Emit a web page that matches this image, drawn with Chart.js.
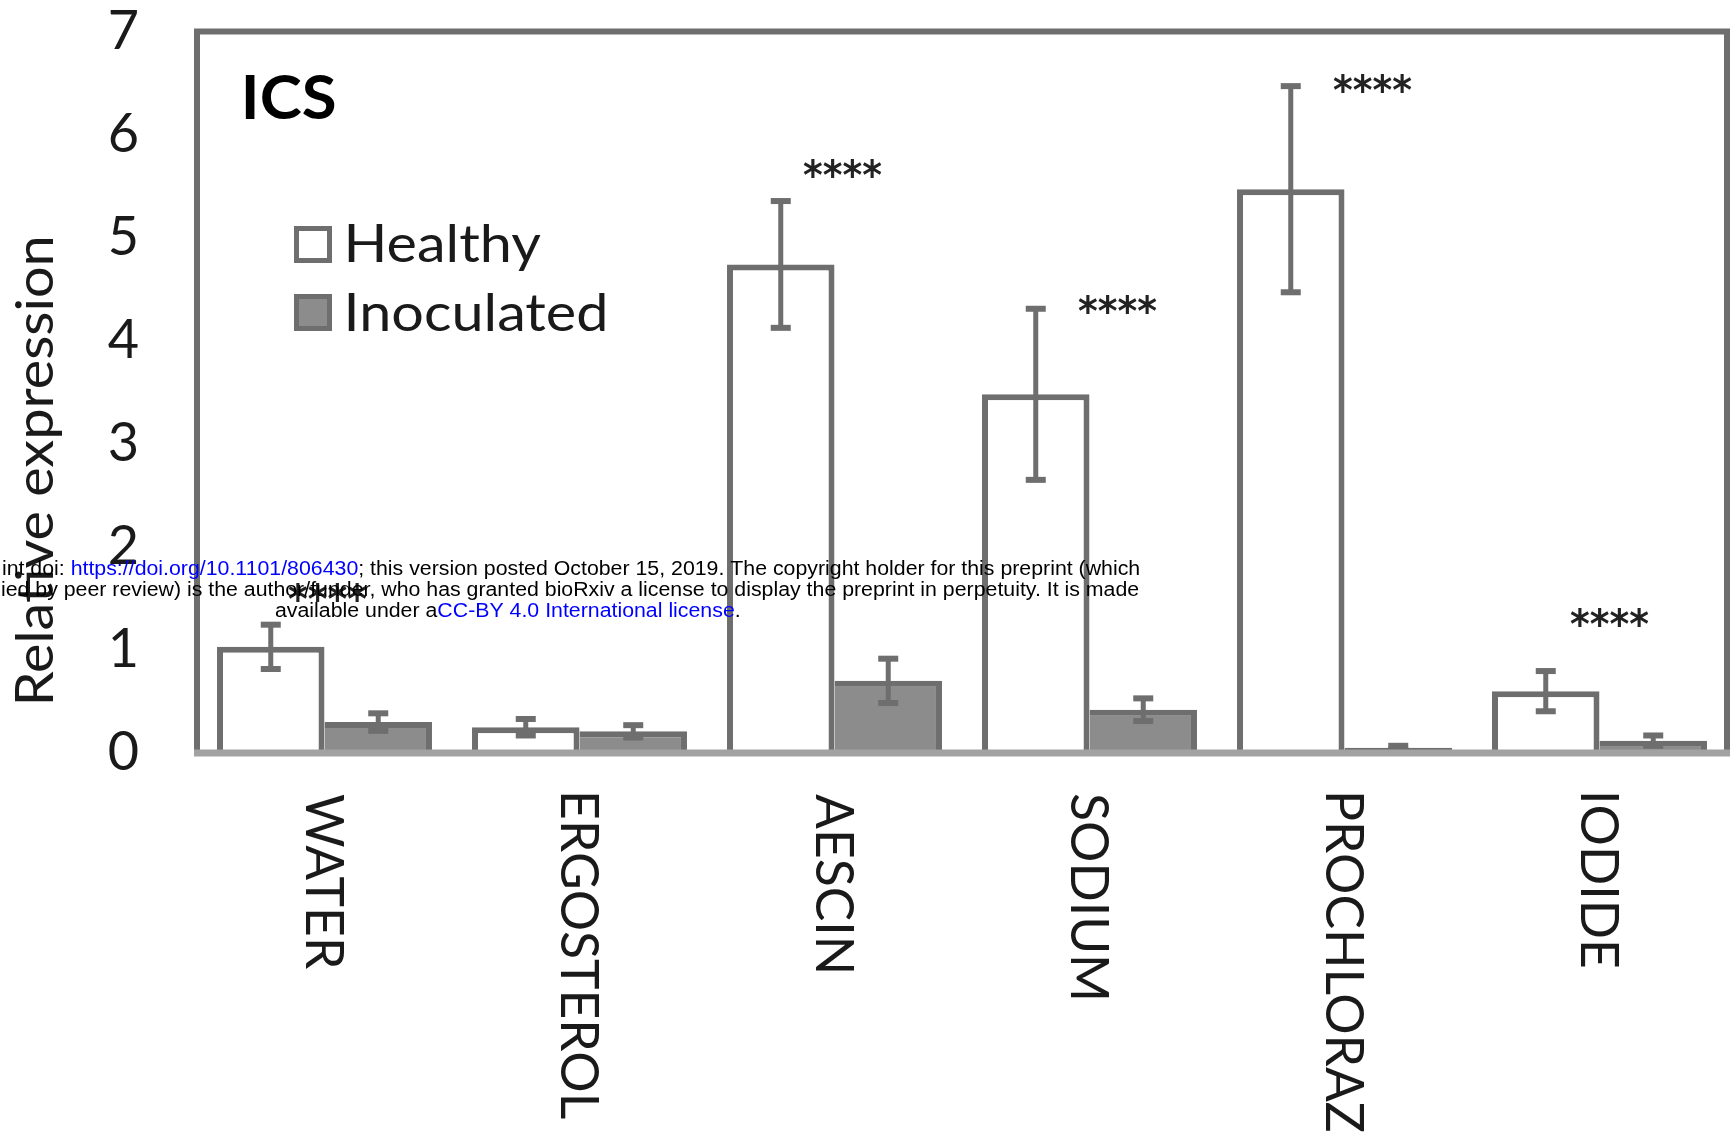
<!DOCTYPE html>
<html>
<head>
<meta charset="utf-8">
<title>ICS relative expression</title>
<script src="https://cdn.jsdelivr.net/npm/chart.js@4/dist/chart.umd.min.js"></script>
<style>
  html, body { margin: 0; padding: 0; background: #ffffff; }
  #wrap { width: 1734px; height: 1140px; position: relative; }
</style>
</head>
<body>
<div id="wrap"><canvas id="chart"></canvas></div>
<script>
// ---- data ----
const categories = ['WATER', 'ERGOSTEROL', 'AESCIN', 'SODIUM', 'PROCHLORAZ', 'IODIDE'];
const healthy = [1.03, 0.25, 4.74, 3.48, 5.47, 0.60];
const healthyErr = [0.215, 0.08, 0.615, 0.83, 1.00, 0.195];
const inoculated = [0.30, 0.21, 0.70, 0.42, 0.05, 0.12];
const inoculatedErr = [0.085, 0.06, 0.215, 0.11, 0.02, 0.05];
const sigMarks = ['****', '', '****', '****', '****', '****'];
const sigLevel = [1.56, null, 5.68, 4.36, 6.50, 1.32];
const yTicks = [0, 1, 2, 3, 4, 5, 6, 7];
const panelTitle = 'ICS';
const yTitle = 'Relative expression';

// ---- styles ----
const LINE_GRAY = '#6e6e6e';
const INOC_FILL = '#8c8c8c';
const TEXT = '#1a1a1a';
const BLUE = '#0000ff';

function drawFitted(ctx, text, o) {
  ctx.save();
  ctx.font = o.font;
  ctx.textAlign = 'left';
  ctx.textBaseline = 'alphabetic';
  const segs = o.segments || [{ text: text, color: o.color }];
  const full = segs.map(s => s.text).join('');
  const m = ctx.measureText(full);
  const inkL = m.actualBoundingBoxLeft, inkR = m.actualBoundingBoxRight;
  const sx = o.width ? o.width / (inkL + inkR) : (o.sx || 1);
  ctx.translate(o.x, o.y);
  if (o.rot) ctx.rotate(o.rot);
  ctx.scale(sx, 1);
  let lx = inkL;
  if (o.align === 'right') lx = -inkR;
  else if (o.align === 'center') lx = (inkL - inkR) / 2;
  let ly = 0;
  if (o.vAlign === 'center') ly = (m.actualBoundingBoxAscent - m.actualBoundingBoxDescent) / 2;
  let cx = lx;
  for (const s of segs) {
    ctx.fillStyle = s.color;
    ctx.fillText(s.text, cx, ly);
    cx += ctx.measureText(s.text).width;
  }
  ctx.restore();
  return sx;
}

function inkScale(ctx, font, text, width) {
  ctx.save();
  ctx.font = font;
  const m = ctx.measureText(text);
  ctx.restore();
  return width / (m.actualBoundingBoxLeft + m.actualBoundingBoxRight);
}

// error bars, frame, significance marks, category labels, legend and captions
const decorations = {
  id: 'decorations',
  afterDraw(chart) {
    const ctx = chart.ctx;
    const area = chart.chartArea;
    const y = chart.scales.y;
    const x = chart.scales.x;

    // error bars
    const errs = [healthyErr, inoculatedErr];
    chart.data.datasets.forEach((ds, di) => {
      const meta = chart.getDatasetMeta(di);
      meta.data.forEach((bar, i) => {
        const v = ds.data[i], e = errs[di][i];
        const yt = y.getPixelForValue(v + e);
        const yb = y.getPixelForValue(Math.max(0, v - e));
        ctx.save();
        ctx.strokeStyle = LINE_GRAY;
        ctx.fillStyle = LINE_GRAY;
        ctx.lineWidth = 5;
        ctx.beginPath();
        ctx.moveTo(bar.x, yt);
        ctx.lineTo(bar.x, yb);
        ctx.stroke();
        ctx.fillRect(bar.x - 10, yt - 3, 20, 6);
        ctx.fillRect(bar.x - 10, yb - 3, 20, 6);
        ctx.restore();
      });
    });

    // plot frame
    ctx.save();
    ctx.strokeStyle = LINE_GRAY;
    ctx.lineWidth = 6;
    ctx.beginPath();
    ctx.moveTo(area.left, area.bottom);
    ctx.lineTo(area.left, area.top);
    ctx.lineTo(area.right, area.top);
    ctx.lineTo(area.right, area.bottom);
    ctx.stroke();
    ctx.strokeStyle = '#a2a2a2';
    ctx.lineWidth = 7;
    ctx.beginPath();
    ctx.moveTo(area.left - 3, area.bottom);
    ctx.lineTo(area.right + 3, area.bottom);
    ctx.stroke();
    ctx.restore();

    // significance marks
    const sigShift = [3, 0, 8, 28, 28, 10];
    sigMarks.forEach((s, i) => {
      if (!s || sigLevel[i] == null) return;
      drawFitted(ctx, s, {
        font: 'bold 40px "DejaVu Sans"', color: '#222222',
        x: x.getPixelForValue(i) + sigShift[i], y: y.getPixelForValue(sigLevel[i]),
        width: 79, align: 'center', vAlign: 'center'
      });
    });

    // category labels, read top to bottom
    const labFont = '53px Lato';
    const labSx = inkScale(ctx, labFont, 'ERGOSTEROL', 325);
    chart.data.labels.forEach((lab, i) => {
      drawFitted(ctx, lab, {
        font: labFont, color: TEXT, x: x.getPixelForValue(i), y: 794,
        rot: Math.PI / 2, sx: labSx, align: 'left', vAlign: 'center'
      });
    });

    // y axis title
    drawFitted(ctx, yTitle, {
      font: '53px Lato', color: TEXT, x: 53, y: 702,
      rot: -Math.PI / 2, width: 464, align: 'left'
    });

    // panel title
    drawFitted(ctx, panelTitle, {
      font: 'bold 61px Lato', color: '#000000', x: 245, y: 119, width: 90, align: 'left'
    });

    // legend
    const legFont = '52px Lato';
    const legSx = inkScale(ctx, legFont, chart.data.datasets[1].label, 257);
    const rows = [{ top: 226, base: 262 }, { top: 294, base: 331 }];
    chart.data.datasets.forEach((ds, di) => {
      const r = rows[di];
      ctx.save();
      ctx.fillStyle = ds.backgroundColor;
      ctx.fillRect(294, r.top, 38, 37);
      ctx.strokeStyle = LINE_GRAY;
      ctx.lineWidth = 5;
      ctx.strokeRect(296.5, r.top + 2.5, 33, 32);
      ctx.restore();
      drawFitted(ctx, ds.label, {
        font: legFont, color: TEXT, x: 348, y: r.base, sx: legSx, align: 'left'
      });
    });

    // preprint notice overlay
    const wmFont = '20px "Liberation Sans"';
    const line1 = [
      { text: 'int doi: ', color: '#000000' },
      { text: 'https://doi.org/10.1101/806430', color: BLUE },
      { text: '; this version posted October 15, 2019. The copyright holder for this preprint (which', color: '#000000' }
    ];
    const wmSx = drawFitted(ctx, null, { font: wmFont, segments: line1, x: 3, y: 575, width: 1136, align: 'left' });
    drawFitted(ctx, null, {
      font: wmFont, x: 1139, y: 596, sx: wmSx, align: 'right',
      segments: [{ text: 'ied by peer review) is the author/funder, who has granted bioRxiv a license to display the preprint in perpetuity. It is made', color: '#000000' }]
    });
    drawFitted(ctx, null, {
      font: wmFont, x: 275, y: 617, sx: wmSx, align: 'left',
      segments: [
        { text: 'available under a', color: '#000000' },
        { text: 'CC-BY 4.0 International license', color: BLUE },
        { text: '.', color: '#000000' }
      ]
    });
  }
};

function build() {
  const ctx = document.getElementById('chart').getContext('2d');
  new Chart(ctx, {
    type: 'bar',
    data: {
      labels: categories,
      datasets: [
        {
          label: 'Healthy', data: healthy,
          backgroundColor: '#ffffff', borderColor: LINE_GRAY,
          borderWidth: { left: 6, right: 6, top: 6, bottom: 0 },
          borderSkipped: 'start', barPercentage: 1, categoryPercentage: 0.843
        },
        {
          label: 'Inoculated', data: inoculated,
          backgroundColor: INOC_FILL, borderColor: LINE_GRAY,
          borderWidth: { left: 0, right: 6, top: 6, bottom: 0 },
          borderSkipped: 'start', barPercentage: 1, categoryPercentage: 0.843
        }
      ]
    },
    options: {
      responsive: true,
      maintainAspectRatio: false,
      animation: false,
      events: [],
      layout: { padding: { top: 31.5, right: 7, bottom: 0, left: 0 } },
      plugins: { legend: { display: false }, tooltip: { enabled: false }, title: { display: false } },
      scales: {
        x: {
          grid: { display: false, drawTicks: false },
          border: { display: false },
          ticks: { display: false },
          afterFit(s) { s.height = 387; s.paddingLeft = 0; s.paddingRight = 0; }
        },
        y: {
          min: 0, max: 7,
          afterBuildTicks(s) { s.ticks = yTicks.map(v => ({ value: v })); },
          grid: { display: false, drawTicks: false },
          border: { display: false },
          ticks: { padding: 58, color: TEXT, font: { family: 'Lato', size: 54 } },
          afterFit(s) { s.width = 197; s.paddingTop = 0; s.paddingBottom = 0; }
        }
      }
    },
    plugins: [decorations]
  });
}

Promise.all([
  document.fonts.load('54px Lato'),
  document.fonts.load('bold 61px Lato'),
  document.fonts.load('bold 40px "DejaVu Sans"'),
  document.fonts.load('20px "Liberation Sans"')
]).then(build, build);
</script>
</body>
</html>
